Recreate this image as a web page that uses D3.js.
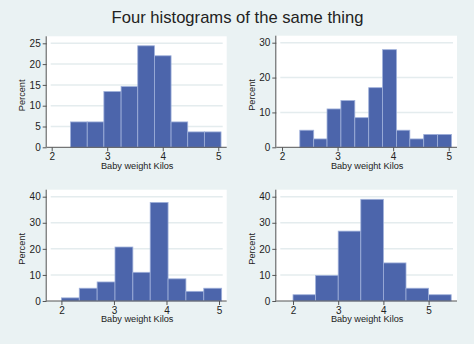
<!DOCTYPE html>
<html>
<head>
<meta charset="utf-8">
<script src="https://cdn.jsdelivr.net/npm/d3@7"></script>
<style>
  html, body { margin: 0; padding: 0; background: #eaf2f3; }
  svg { display: block; font-family: "Liberation Sans", Arial, sans-serif; }
</style>
</head>
<body>
<div class="chart"></div>
<script>
const W = 474, H = 344;

// bin edges (kg) and bar heights (percent) for each histogram
const edges1 = [2.34, 2.64, 2.94, 3.25, 3.55, 3.85, 4.15, 4.45, 4.75, 5.05];
const pct1 = [6.1, 6.1, 13.4, 14.6, 24.4, 22.0, 6.1, 3.7, 3.7];

const edges2 = [2.32, 2.57, 2.81, 3.06, 3.31, 3.56, 3.81, 4.06, 4.30, 4.55, 4.80, 5.05];
const pct2 = [4.9, 2.4, 11.0, 13.4, 8.5, 17.1, 28.0, 4.9, 2.4, 3.7, 3.7];

const edges3 = [2.0, 2.34, 2.68, 3.02, 3.36, 3.69, 4.03, 4.37, 4.71, 5.05];
const pct3 = [1.2, 4.9, 7.3, 20.7, 11.0, 37.8, 8.5, 3.7, 4.9];

const edges4 = [2.0, 2.5, 3.0, 3.5, 4.0, 4.5, 5.0, 5.5];
const pct4 = [2.4, 9.8, 26.8, 39.0, 14.6, 4.9, 2.4];

const xTicks = [2, 3, 4, 5];
const yTicks1 = [0, 5, 10, 15, 20, 25];
const yTicks2 = [0, 10, 20, 30];
const yTicks3 = [0, 10, 20, 30, 40];
const yTicks4 = [0, 10, 20, 30, 40];

const xDomains = [[1.91, 5.08], [1.897, 5.077], [1.72, 5.07], [1.63, 5.54]];

const title = "Four histograms of the same thing";
const xTitle = "Baby weight Kilos";
const yTitle = "Percent";

// panel placement in pixels
const panels = [
  { edges: edges1, pct: pct1, yTicks: yTicks1, x0: 46.7, x1: 222.7, y0: 147.3, yTopTick: 43.3 },
  { edges: edges2, pct: pct2, yTicks: yTicks2, x0: 276.3, x1: 453, y0: 147.3, yTopTick: 42.7 },
  { edges: edges3, pct: pct3, yTicks: yTicks3, x0: 46.7, x1: 222.7, y0: 301, yTopTick: 196.7 },
  { edges: edges4, pct: pct4, yTicks: yTicks4, x0: 276.3, x1: 453, y0: 301, yTopTick: 196.7 }
];

const svg = d3.select(".chart")
  .append("svg")
  .attr("width", W)
  .attr("height", H);

svg.append("rect")
  .attr("width", W)
  .attr("height", H)
  .attr("fill", "#eaf2f3");

svg.append("text")
  .attr("x", W / 2 + 0.5)
  .attr("y", 23)
  .attr("text-anchor", "middle")
  .attr("font-size", "16.6px")
  .attr("fill", "#222")
  .text(title);

panels.forEach((p, i) => {
  const x = d3.scaleLinear().domain(xDomains[i]).range([p.x0, p.x1]);
  const yMax = p.yTicks[p.yTicks.length - 1];
  const y = d3.scaleLinear().domain([0, yMax]).range([p.y0, p.yTopTick]);

  const g = svg.append("g");

  // white plot region
  g.append("rect")
    .attr("x", p.x0)
    .attr("y", p.yTopTick - 7)
    .attr("width", p.x1 - p.x0 + 4)
    .attr("height", p.y0 - p.yTopTick + 7)
    .attr("fill", "#ffffff");

  // gridlines
  g.selectAll(".grid")
    .data(p.yTicks.filter(d => d > 0))
    .enter()
    .append("line")
    .attr("x1", p.x0 + 4)
    .attr("x2", p.x1)
    .attr("y1", d => y(d))
    .attr("y2", d => y(d))
    .attr("stroke", "#e4ecee")
    .attr("stroke-width", 1.5);

  // bars
  const bins = p.pct.map((v, j) => ({ lo: p.edges[j], hi: p.edges[j + 1], v: v }));
  g.selectAll(".bar")
    .data(bins)
    .enter()
    .append("rect")
    .attr("x", d => x(d.lo))
    .attr("y", d => y(d.v))
    .attr("width", d => x(d.hi) - x(d.lo))
    .attr("height", d => y(0) - y(d.v))
    .attr("fill", "#4c65ab")
    .attr("stroke", "#9fb0da")
    .attr("stroke-width", 0.8);

  // axes
  const yAxis = d3.axisLeft(y).tickValues(p.yTicks).tickFormat(d3.format("d")).tickSize(4).tickPadding(2);
  const xAxis = d3.axisBottom(x).tickValues(xTicks).tickFormat(d3.format("d")).tickSize(4).tickPadding(1.5);

  const ya = g.append("g")
    .attr("transform", `translate(${p.x0},0)`)
    .call(yAxis);
  ya.select(".domain").attr("d", `M-0.5,${p.y0}V${p.yTopTick - 7}`);

  const xa = g.append("g")
    .attr("transform", `translate(0,${p.y0})`)
    .call(xAxis);
  xa.select(".domain").attr("d", `M${p.x0},0H${p.x1 + 4}`);

  [ya, xa].forEach(a => {
    a.select(".domain").attr("stroke", "#555").attr("stroke-width", 1);
    a.selectAll(".tick line").attr("stroke", "#555");
    a.selectAll(".tick text")
      .attr("font-size", "10px")
      .attr("font-family", "Liberation Sans, Arial, sans-serif")
      .attr("fill", "#222");
  });

  g.append("text")
    .attr("x", (p.x0 + p.x1) / 2 + 2.5)
    .attr("y", p.y0 + 21.2)
    .attr("text-anchor", "middle")
    .attr("font-size", "9.2px")
    .attr("fill", "#222")
    .text(xTitle);

  g.append("text")
    .attr("transform", `translate(${p.x0 - 21.5},${(p.y0 + p.yTopTick) / 2}) rotate(-90)`)
    .attr("text-anchor", "middle")
    .attr("font-size", "9.2px")
    .attr("fill", "#222")
    .text(yTitle);
});
</script>
</body>
</html>
